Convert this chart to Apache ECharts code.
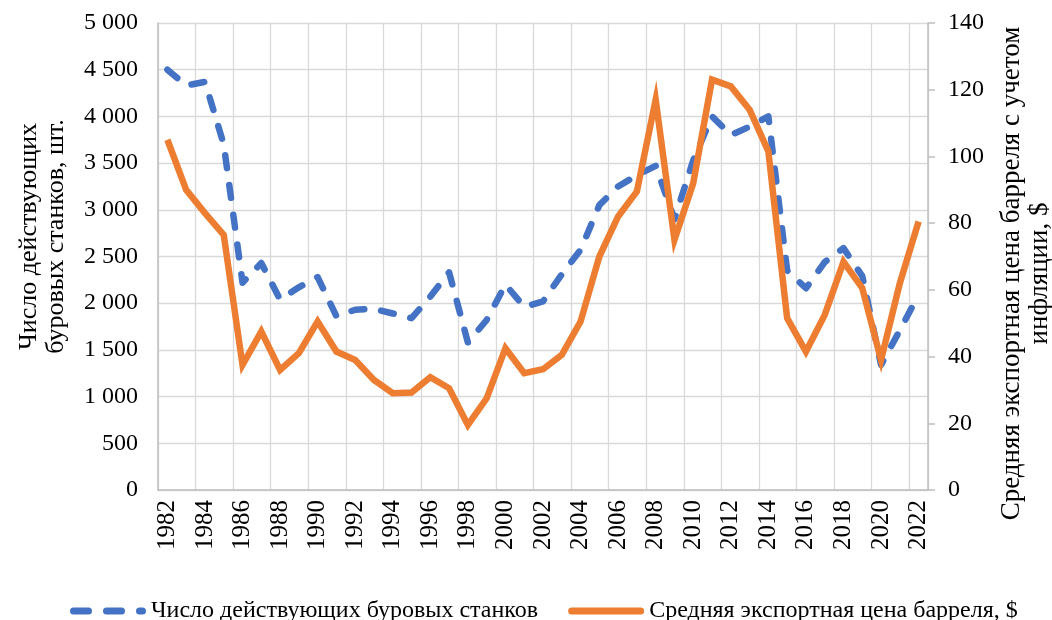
<!DOCTYPE html>
<html>
<head>
<meta charset="utf-8">
<script src="https://cdn.jsdelivr.net/npm/echarts@6/dist/echarts.min.js"></script>
<style>
  html, body { margin: 0; padding: 0; background: #fff; }
  #main { width: 1052px; height: 620px; }
</style>
</head>
<body>
<div id="main"></div>
<script>
// годы
const years = [
  '1982','1983','1984','1985','1986','1987','1988','1989','1990','1991',
  '1992','1993','1994','1995','1996','1997','1998','1999','2000','2001',
  '2002','2003','2004','2005','2006','2007','2008','2009','2010','2011',
  '2012','2013','2014','2015','2016','2017','2018','2019','2020','2021','2022'
]

// число действующих буровых станков, шт.
const rigs = [
  4500, 4330, 4370, 3700, 2220, 2430, 2040, 2170, 2280, 1860,
  1930, 1940, 1890, 1840, 2070, 2330, 1580, 1820, 2200, 1960,
  2020, 2310, 2570, 3050, 3250, 3370, 3470, 2900, 3530, 4000,
  3800, 3890, 4000, 2350, 2160, 2440, 2590, 2290, 1340, 1710, 2090
]

// средняя экспортная цена барреля с учетом инфляции, $
const price = [
  105, 90, 83, 76.5, 37.5, 47.5, 36, 41, 50.5, 41.5,
  39, 33, 29, 29.2, 33.8, 30.5, 19.5, 27.5, 42.5, 35,
  36.2, 40.5, 50.5, 70, 82, 89.5, 117, 75, 92, 123,
  121, 114, 101.5, 51.5, 41.5, 52.5, 68.4, 60.5, 39, 62, 80.5
]

const serif = 'Liberation Serif'
const gridColor = '#D9D9D9'
const axisColor = '#BFBFBF'

// значки легенды: пунктир и сплошная линия
const dashIcon = 'path://M3.5,0H18.5A3.5,3.5,0,0,1,18.5,7H3.5A3.5,3.5,0,0,1,3.5,0Z' +
  'M36.5,0H51.5A3.5,3.5,0,0,1,51.5,7H36.5A3.5,3.5,0,0,1,36.5,0Z' +
  'M69.5,0H72.5A3.5,3.5,0,0,1,72.5,7H69.5A3.5,3.5,0,0,1,69.5,0Z'
const solidIcon = 'path://M3.5,0H72.5A3.5,3.5,0,0,1,72.5,7H3.5A3.5,3.5,0,0,1,3.5,0Z'

const fmtThousands = v => String(v).replace(/\B(?=(\d{3})+(?!\d))/g, ' ')

const option = {
  animation: false,
  textStyle: { fontFamily: serif, color: '#000' },
  grid: { left: 158, right: 124, top: 23, bottom: 130, containLabel: false, outerBoundsMode: 'none' },
  legend: {
    left: 65,
    top: 594,
    itemWidth: 76,
    itemHeight: 7,
    itemGap: 30,
    textStyle: { fontFamily: serif, fontSize: 24, color: '#000' },
    data: [
      { name: 'Число действующих буровых станков', icon: dashIcon },
      { name: 'Средняя экспортная цена барреля, $', icon: solidIcon }
    ]
  },
  xAxis: {
    type: 'category',
    data: years,
    boundaryGap: true,
    axisLine: { lineStyle: { color: axisColor, width: 1.5 } },
    axisTick: { show: false },
    splitLine: { show: true, interval: 1, lineStyle: { color: gridColor, width: 1.3 } },
    axisLabel: { interval: 1, rotate: 90, margin: 10, fontSize: 25, color: '#000', fontFamily: serif }
  },
  yAxis: [
    {
      type: 'value',
      min: 0, max: 5000, interval: 500,
      name: 'Число действующих\nбуровых станков, шт.',
      nameLocation: 'middle',
      nameRotate: 90,
      nameGap: 88,
      nameTextStyle: { fontSize: 26, lineHeight: 27, fontFamily: serif, color: '#000', padding: [0, 0, 0, 40] },
      axisLine: { show: true, lineStyle: { color: axisColor, width: 1.5 } },
      axisTick: { show: false },
      splitLine: { lineStyle: { color: gridColor, width: 1.3 } },
      axisLabel: { margin: 20, fontSize: 24, color: '#000', fontFamily: serif, formatter: fmtThousands }
    },
    {
      type: 'value',
      position: 'right',
      min: 0, max: 140, interval: 20,
      name: 'Средняя экспортная цена барреля с учетом\nинфляции, $',
      nameLocation: 'middle',
      nameRotate: 90,
      nameGap: 70,
      nameTextStyle: { fontSize: 27, lineHeight: 28, fontFamily: serif, color: '#000', padding: [0, 34, 0, 0] },
      axisLine: { show: true, lineStyle: { color: axisColor, width: 1.5 } },
      axisTick: { show: true, length: 7, lineStyle: { color: axisColor, width: 1.5 } },
      splitLine: { show: false },
      axisLabel: { margin: 20, fontSize: 24, color: '#000', fontFamily: serif }
    }
  ],
  series: [
    {
      name: 'Число действующих буровых станков',
      type: 'line',
      yAxisIndex: 0,
      data: rigs,
      symbol: 'none',
      z: 2,
      lineStyle: { color: '#4472C4', width: 6.5, type: [13, 17], cap: 'round', join: 'round' },
      itemStyle: { color: '#4472C4' }
    },
    {
      name: 'Средняя экспортная цена барреля, $',
      type: 'line',
      yAxisIndex: 1,
      data: price,
      symbol: 'none',
      z: 3,
      lineStyle: { color: '#ED7D31', width: 6.5, join: 'miter' },
      itemStyle: { color: '#ED7D31' }
    }
  ]
}

const myChart = echarts.init(document.getElementById('main'))
myChart.setOption(option)
</script>
</body>
</html>
